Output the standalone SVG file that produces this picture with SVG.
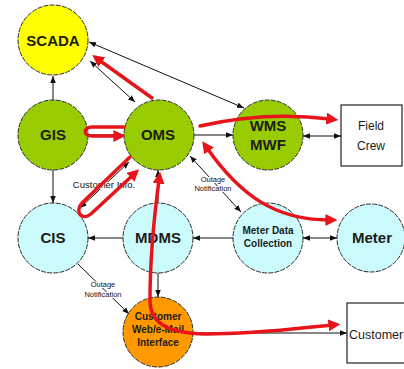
<svg xmlns="http://www.w3.org/2000/svg" width="404" height="369" viewBox="0 0 404 369">
<style>
.n{stroke:#2a2a2a;stroke-width:1;stroke-dasharray:5 1.2}
.b{font-family:"Liberation Sans",Arial,sans-serif;font-weight:bold;fill:#1c1c1c;text-anchor:middle}
.r{font-family:"Liberation Sans",Arial,sans-serif;fill:#1c1c1c;text-anchor:middle}
.lbl{font-family:"Liberation Sans",Arial,sans-serif;fill:#111;text-anchor:middle;stroke:#fff;stroke-width:2;paint-order:stroke fill}
.k{fill:none;stroke:#111;stroke-width:1}
.red{fill:none;stroke:#e8141b;stroke-width:3.5;stroke-linecap:round;stroke-linejoin:round}
.box{fill:#fff;stroke:#222;stroke-width:1.2}
</style>
<defs>
<marker id="ab" viewBox="0 0 10 10" refX="10" refY="5" markerWidth="7" markerHeight="7" markerUnits="userSpaceOnUse" orient="auto-start-reverse"><path d="M0,1 L10,5 L0,9 z" fill="#111"/></marker>
<marker id="ar" viewBox="0 0 10 10" refX="3" refY="5" markerWidth="12" markerHeight="12" markerUnits="userSpaceOnUse" orient="auto-start-reverse"><path d="M0,0 L10,5 L0,10 z" fill="#e8141b"/></marker>
</defs>
<rect width="404" height="369" fill="#fff"/>

<g id="scada"><circle class="n" cx="53" cy="40" r="35" fill="#ffff00"/><text class="b" x="53" y="46" font-size="15">SCADA</text></g>
<g id="gis"><circle class="n" cx="53" cy="135" r="35" fill="#99cc00"/><text class="b" x="53" y="140" font-size="15">GIS</text></g>
<g id="oms"><circle class="n" cx="159" cy="135" r="35" fill="#99cc00"/><text class="b" x="158" y="140" font-size="15">OMS</text></g>
<g id="wms"><circle class="n" cx="268" cy="135" r="35" fill="#99cc00"/><text class="b" x="268" y="131" font-size="15">WMS</text><text class="b" x="268" y="150" font-size="15">MWF</text></g>
<g id="fieldcrew"><rect class="box" x="341" y="105" width="61" height="61"/><text class="r" x="371" y="130" font-size="12">Field</text><text class="r" x="371" y="150" font-size="12">Crew</text></g>
<g id="cis"><circle class="n" cx="53" cy="238" r="35" fill="#ccfbfd"/><text class="b" x="53" y="243" font-size="15">CIS</text></g>
<g id="mdms"><circle class="n" cx="158" cy="238" r="35" fill="#ccfbfd"/><text class="b" x="158" y="243" font-size="15">MDMS</text></g>
<g id="mdc"><circle class="n" cx="268" cy="238" r="35" fill="#ccfbfd"/><text class="b" x="268" y="234" font-size="10">Meter Data</text><text class="b" x="268" y="247" font-size="10">Collection</text></g>
<g id="meter"><circle class="n" cx="371" cy="238" r="34" fill="#ccfbfd"/><text class="b" x="372" y="243" font-size="15">Meter</text></g>
<g id="custweb"><circle class="n" cx="158" cy="332" r="35" fill="#ff9900"/><text class="b" x="158" y="320" font-size="10">Customer</text><text class="b" x="158" y="333" font-size="10">Web/e-Mail</text><text class="b" x="158" y="346" font-size="10">Interface</text></g>
<g id="customer"><rect class="box" x="347" y="303" width="62" height="60"/><text class="r" x="349" y="339" font-size="12.5" style="text-anchor:start">Customer</text></g>

<g id="connectors">
<path class="k" d="M53,100 L53,76" marker-end="url(#ab)"/>
<path class="k" d="M90,61 L135,102" marker-start="url(#ab)" marker-end="url(#ab)"/>
<path class="k" d="M89,42 L244,108" marker-start="url(#ab)" marker-end="url(#ab)"/>
<path class="k" d="M53,170 L53,203" marker-end="url(#ab)"/>
<path class="k" d="M88,135 L124,135" marker-end="url(#ab)"/>
<path class="k" d="M194,135 L233,135" marker-end="url(#ab)"/>
<path class="k" d="M303,136 L341,136" marker-start="url(#ab)" marker-end="url(#ab)"/>
<path class="k" d="M129,162 L80,208" marker-start="url(#ab)" marker-end="url(#ab)"/>
<path class="k" d="M190,156 L241,212" marker-start="url(#ab)" marker-end="url(#ab)"/>
<path class="k" d="M123,238 L88,238" marker-end="url(#ab)"/>
<path class="k" d="M233,238 L193,238" marker-end="url(#ab)"/>
<path class="k" d="M303,238 L337,238" marker-start="url(#ab)" marker-end="url(#ab)"/>
<path class="k" d="M158,203 L158,170" marker-end="url(#ab)"/>
<path class="k" d="M158,273 L158,297" marker-end="url(#ab)"/>
<path class="k" d="M78,264 L129,314" marker-end="url(#ab)"/>
<path class="k" d="M193,333 L347,333" marker-end="url(#ab)"/>
<text class="lbl" x="104" y="188" font-size="9.5">Customer Info.</text>
<text class="lbl" x="213" y="182" font-size="7.5">Outage</text>
<text class="lbl" x="213" y="191" font-size="7.5">Notification</text>
<text class="lbl" x="103" y="287" font-size="7.5">Outage</text>
<text class="lbl" x="103" y="297" font-size="7.5">Notification</text>

<path class="red" d="M152,98 L99,60" marker-end="url(#ar)"/>
<path class="red" d="M124,127 L92,127 C83,127 83,136 92,136 L117,136" marker-end="url(#ar)"/>
<path class="red" d="M200,126 Q265,111 330,119" marker-end="url(#ar)"/>
<path class="red" d="M207,148 C240,195 275,220 329,220" marker-start="url(#ar)" marker-end="url(#ar)"/>
<path class="red" d="M130,157 L82,203 C74,212 82,222 92,213 L133,175" marker-end="url(#ar)"/>
<path class="red" d="M159,180 C153,225 150,270 150,300 C150,325 170,333 205,334 C260,334 300,328 332,325" marker-start="url(#ar)" marker-end="url(#ar)"/>
</g>
</svg>
